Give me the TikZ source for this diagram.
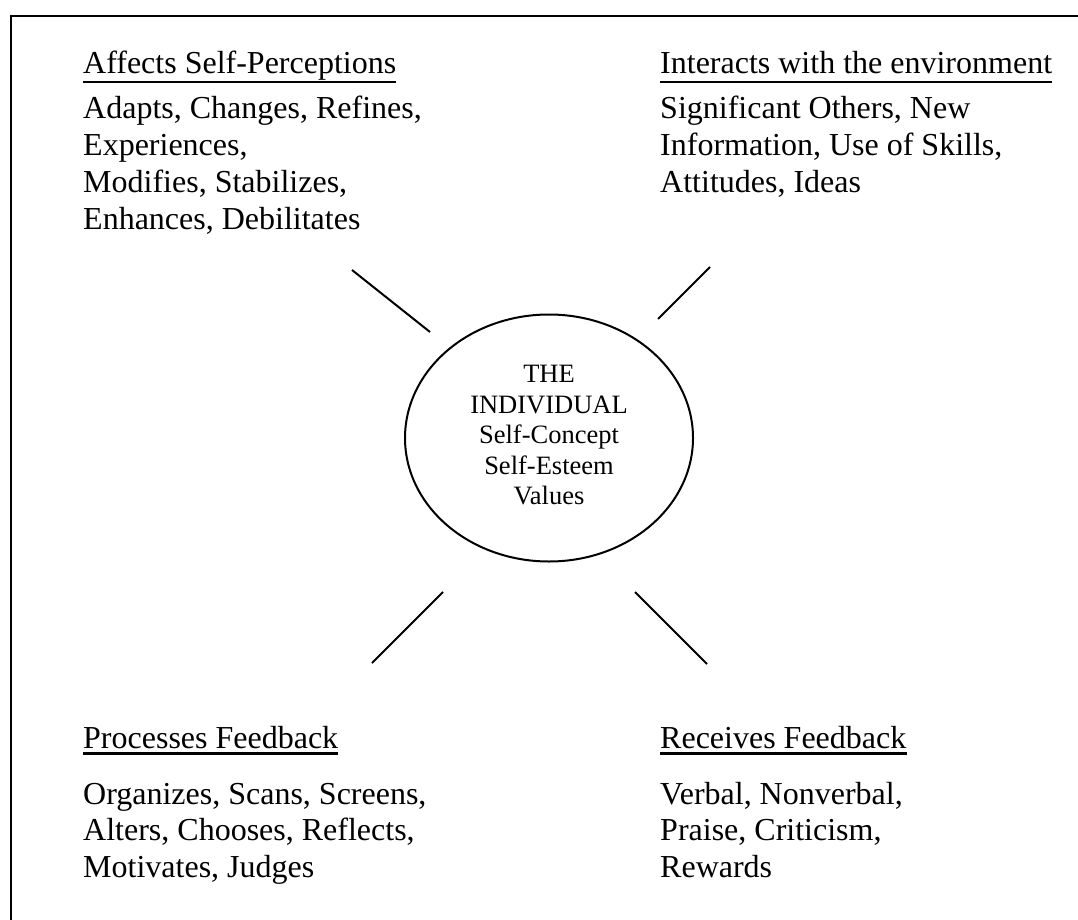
\documentclass[tikz,border=0pt]{standalone}
\usepackage{fontspec}
\setmainfont{Liberation Serif}
\usetikzlibrary{shapes.geometric}
\begin{document}
\begin{tikzpicture}[x=1pt,y=-1pt,
  heading/.style={anchor=base west, inner sep=0pt, font=\fontsize{32}{36.8}\selectfont},
  body/.style={anchor=base west, inner sep=0pt, align=left, font=\fontsize{32}{36.8}\selectfont},
  spoke/.style={line width=2pt},
  uline/.style={line width=2.5pt},
  oval/.style={draw, ellipse, line width=2pt, minimum width=288pt, minimum height=247pt, inner sep=0pt},
  ovaltext/.style={anchor=base, inner sep=0pt, align=center, font=\fontsize{26.5}{30.4}\selectfont}]
\useasboundingbox (0,0) rectangle (1078,920);
\fill[white] (0,0) rectangle (1078,920);
% frame
\coordinate (b1) at (1078,16);
\coordinate (b2) at (11,16);
\coordinate (b3) at (11,920);
\draw[line width=2pt] (b1) -- (b2) -- (b3);
% texts (body nodes are placed by the baseline of their last line)
\node[heading] (h1) at (83,74) {Affects Self-Perceptions};
\node[body] (t1) at (83,229.4) {Adapts, Changes, Refines,\\Experiences,\\Modifies, Stabilizes,\\Enhances, Debilitates};
\node[heading] (h2) at (660,74) {Interacts with the environment};
\node[body] (t2) at (660,192.6) {Significant Others, New\\Information, Use of Skills,\\Attitudes, Ideas};
\node[heading] (h3) at (83,748) {Processes Feedback};
\node[body] (t3) at (83,877.6) {Organizes, Scans, Screens,\\Alters, Chooses, Reflects,\\Motivates, Judges};
\node[heading] (h4) at (660,748) {Receives Feedback};
\node[body] (t4) at (660,877.6) {Verbal, Nonverbal,\\Praise, Criticism,\\Rewards};
\foreach \h in {h1,h2}
  \draw[uline] ([yshift=-8pt]\h.base west) -- ([yshift=-8pt]\h.base east);
\foreach \h in {h3,h4}
  \draw[uline] ([yshift=-5.5pt]\h.base west) -- ([yshift=-5.5pt]\h.base east);
% centre
\node[oval] (ind) at (549,438) {};
\node[ovaltext] (indtext) at (549,504.5) {THE\\INDIVIDUAL\\Self-Concept\\Self-Esteem\\Values};
% spokes
\coordinate (s1a) at (352,270); \coordinate (s1b) at (430,332);
\coordinate (s2a) at (710,267); \coordinate (s2b) at (658,319);
\coordinate (s3a) at (443,592); \coordinate (s3b) at (372,663);
\coordinate (s4a) at (635,592); \coordinate (s4b) at (707,664);
\draw[spoke] (s1a) -- (s1b);
\draw[spoke] (s2a) -- (s2b);
\draw[spoke] (s3a) -- (s3b);
\draw[spoke] (s4a) -- (s4b);
\end{tikzpicture}
\end{document}
